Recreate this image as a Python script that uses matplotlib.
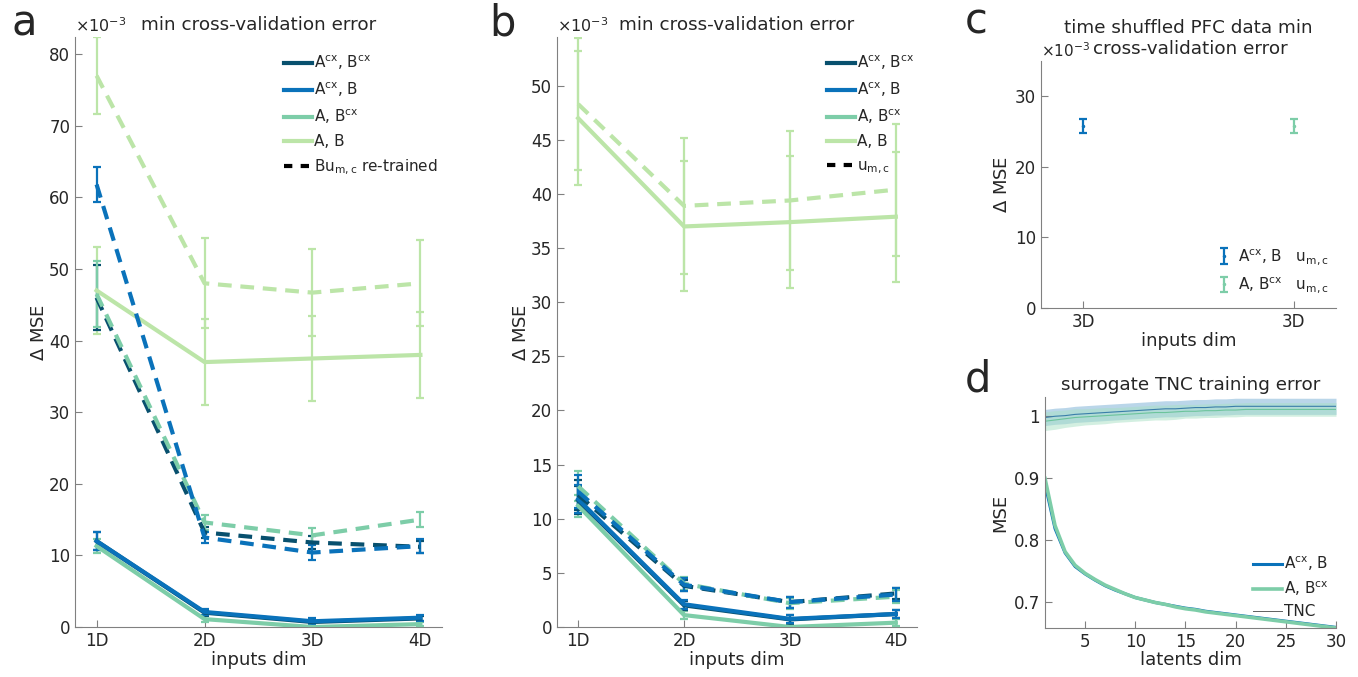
import numpy as np
import matplotlib
matplotlib.use('Agg')
import matplotlib.pyplot as plt
from matplotlib.lines import Line2D

plt.rcParams['font.family'] = ['DejaVu Sans']
plt.rcParams['text.color'] = '#262626'
plt.rcParams['axes.labelcolor'] = '#262626'
plt.rcParams['xtick.color'] = '#262626'
plt.rcParams['ytick.color'] = '#262626'
plt.rcParams['mathtext.default'] = 'regular'

# colours
c_dark = '#08506e'
c_blue = '#0a72ba'
c_mint = '#7dcda8'
c_light = '#bce5a8'

dims = [1, 2, 3, 4]
dim_labels = ['1D', '2D', '3D', '4D']
series_names = ['A$^{cx}$, B$^{cx}$', 'A$^{cx}$, B', 'A, B$^{cx}$', 'A, B']

# panel a  (units of 1e-3)
a_solid = {
    'AcxBcx': [12.0, 2.0, 0.7, 1.2],
    'AcxB':   [12.0, 2.1, 0.8, 1.3],
    'ABcx':   [11.3, 1.1, 0.0, 0.4],
    'AB':     [47.0, 37.0, 37.5, 38.0],
}
a_solid_err = {
    'AcxBcx': [1.2, 0.4, 0.4, 0.4],
    'AcxB':   [1.3, 0.4, 0.4, 0.4],
    'ABcx':   [1.0, 0.4, 0.3, 0.3],
    'AB':     [6.1, 6.0, 6.0, 6.0],
}
a_dash = {
    'AcxBcx': [46.0, 13.2, 11.8, 11.2],
    'AcxB':   [61.8, 12.5, 10.4, 11.3],
    'ABcx':   [46.5, 14.6, 12.8, 15.0],
    'AB':     [77.0, 48.0, 46.7, 48.0],
}
a_dash_err = {
    'AcxBcx': [4.5, 0.8, 0.9, 0.8],
    'AcxB':   [2.4, 0.7, 1.1, 1.0],
    'ABcx':   [4.6, 1.0, 1.0, 1.1],
    'AB':     [5.4, 6.3, 6.1, 6.0],
}

# panel b  (units of 1e-3)
b_solid = {
    'AcxBcx': [11.7, 2.0, 0.7, 1.2],
    'AcxB':   [11.8, 2.1, 0.75, 1.2],
    'ABcx':   [11.2, 1.1, 0.0, 0.4],
    'AB':     [47.0, 37.0, 37.4, 37.9],
}
b_solid_err = {
    'AcxBcx': [1.3, 0.4, 0.4, 0.4],
    'AcxB':   [1.3, 0.4, 0.4, 0.4],
    'ABcx':   [1.0, 0.4, 0.3, 0.3],
    'AB':     [6.2, 6.0, 6.1, 6.0],
}
b_dash = {
    'AcxBcx': [12.2, 3.8, 2.3, 3.1],
    'AcxB':   [12.5, 3.9, 2.3, 3.0],
    'ABcx':   [13.0, 4.0, 2.2, 2.8],
    'AB':     [48.3, 38.9, 39.4, 40.4],
}
b_dash_err = {
    'AcxBcx': [1.4, 0.5, 0.5, 0.5],
    'AcxB':   [1.5, 0.6, 0.5, 0.6],
    'ABcx':   [1.4, 0.6, 0.5, 0.6],
    'AB':     [6.1, 6.3, 6.4, 6.1],
}

# panel c
c_x = [1, 2]
c_val = [25.8, 25.8]
c_err = [1.0, 1.0]

# panel d
latents = list(range(1, 31))
d_acxb = [0.890, 0.818, 0.779, 0.757, 0.745, 0.735, 0.726, 0.719, 0.713, 0.707,
          0.703, 0.699, 0.696, 0.693, 0.690, 0.688, 0.685, 0.683, 0.681, 0.679,
          0.677, 0.675, 0.673, 0.671, 0.669, 0.667, 0.665, 0.663, 0.661, 0.659]
d_abcx = [0.899, 0.823, 0.781, 0.759, 0.746, 0.736, 0.727, 0.720, 0.713, 0.707,
          0.703, 0.699, 0.696, 0.692, 0.689, 0.687, 0.684, 0.682, 0.680, 0.678,
          0.676, 0.674, 0.672, 0.670, 0.668, 0.666, 0.664, 0.662, 0.660, 0.658]
tnc_blue = [0.997, 0.999, 1.000, 1.002, 1.003, 1.004, 1.005, 1.006, 1.007, 1.008,
            1.009, 1.010, 1.011, 1.011, 1.012, 1.013, 1.013, 1.014, 1.014, 1.015,
            1.015, 1.015, 1.015, 1.015, 1.015, 1.015, 1.015, 1.015, 1.015, 1.015]
tnc_blue_sd = [0.013, 0.013, 0.013, 0.013, 0.013, 0.013, 0.013, 0.013, 0.013, 0.013,
               0.013, 0.013, 0.013, 0.013, 0.013, 0.013, 0.013, 0.013, 0.013, 0.013,
               0.013, 0.013, 0.013, 0.013, 0.013, 0.013, 0.013, 0.013, 0.013, 0.013]
tnc_mint = [0.991, 0.993, 0.995, 0.997, 0.998, 0.999, 1.000, 1.001, 1.002, 1.003,
            1.004, 1.005, 1.005, 1.006, 1.007, 1.007, 1.008, 1.008, 1.009, 1.009,
            1.010, 1.010, 1.010, 1.010, 1.010, 1.010, 1.010, 1.010, 1.010, 1.010]
tnc_mint_sd = [0.015, 0.015, 0.014, 0.014, 0.013, 0.013, 0.013, 0.012, 0.012, 0.012,
               0.012, 0.012, 0.012, 0.012, 0.011, 0.011, 0.011, 0.011, 0.011, 0.011,
               0.011, 0.011, 0.011, 0.011, 0.011, 0.011, 0.011, 0.011, 0.011, 0.011]

keys = ['AcxBcx', 'AcxB', 'ABcx', 'AB']
cols = {'AcxBcx': c_dark, 'AcxB': c_blue, 'ABcx': c_mint, 'AB': c_light}

W, H = 1358, 677
fig = plt.figure(figsize=(W / 100, H / 100), dpi=100)


def px_axes(x0, y0, x1, y1):
    return fig.add_axes([x0 / W, (H - y1) / H, (x1 - x0) / W, (y1 - y0) / H])


def style(ax):
    for s in ['top', 'right']:
        ax.spines[s].set_visible(False)
    for s in ['left', 'bottom']:
        ax.spines[s].set_color('#808080')
        ax.spines[s].set_linewidth(0.8)
    ax.tick_params(direction='in', length=5, width=0.8, color='#808080', labelsize=12)


fs = 13
fs_title = 13.2
dash = (3.3, 2.1)


def draw_lines(ax, solid, solid_err, dashd, dash_err):
    for k in ['AB', 'ABcx', 'AcxBcx', 'AcxB']:
        ax.errorbar(dims, solid[k], yerr=solid_err[k], color=cols[k], lw=3,
                    elinewidth=1.6, capsize=3, capthick=1.6, zorder=3)
    for k in ['AB', 'AcxBcx', 'ABcx', 'AcxB']:
        eb = ax.errorbar(dims, dashd[k], yerr=dash_err[k], color=cols[k], lw=3,
                         elinewidth=1.6, capsize=3, capthick=1.6, zorder=3)
        eb[0].set_dashes(dash)


def legend_handles(last):
    hs = [Line2D([], [], color=cols[k], lw=3) for k in keys]
    hs.append(Line2D([], [], color='black', lw=3, dashes=(2, 2)))
    return hs, series_names + [last]


def offset_label(ax):
    ax.text(0, 1.004, '$\\times$10$^{-3}$', transform=ax.transAxes, fontsize=11.5,
            ha='left', va='bottom')


# ---- panel a
ax = px_axes(75, 37, 442, 627)
style(ax)
draw_lines(ax, a_solid, a_solid_err, a_dash, a_dash_err)
ax.set_xlim(0.8, 4.2)
ax.set_ylim(0, 82.4)
ax.set_xticks(dims)
ax.set_xticklabels(dim_labels)
ax.set_yticks([0, 10, 20, 30, 40, 50, 60, 70, 80])
ax.set_xlabel('inputs dim', fontsize=fs, labelpad=1)
ax.set_ylabel('$\\Delta$ MSE', fontsize=fs, labelpad=1)
ax.set_title('min cross-validation error', fontsize=fs_title, pad=5)
offset_label(ax)
hs, ls = legend_handles('Bu$_{m,c}$ re-trained')
ax.legend(hs, ls, loc='upper left', bbox_to_anchor=(0.55, 0.985), frameon=False, fontsize=11,
          handlelength=1.8, handletextpad=0.15, labelspacing=0.55, borderpad=0)
fig.text(11 / W, (H - 36) / H, 'a', fontsize=30, ha='left', va='baseline')

# ---- panel b
ax = px_axes(557, 37, 917, 627)
style(ax)
draw_lines(ax, b_solid, b_solid_err, b_dash, b_dash_err)
ax.set_xlim(0.8, 4.2)
ax.set_ylim(0, 54.5)
ax.set_xticks(dims)
ax.set_xticklabels(dim_labels)
ax.set_yticks([0, 5, 10, 15, 20, 25, 30, 35, 40, 45, 50])
ax.set_xlabel('inputs dim', fontsize=fs, labelpad=1)
ax.set_ylabel('$\\Delta$ MSE', fontsize=fs, labelpad=1)
ax.set_title('min cross-validation error', fontsize=fs_title, pad=5)
offset_label(ax)
hs, ls = legend_handles('u$_{m,c}$')
ax.legend(hs, ls, loc='upper left', bbox_to_anchor=(0.73, 0.985), frameon=False, fontsize=11,
          handlelength=1.8, handletextpad=0.15, labelspacing=0.55, borderpad=0)
fig.text(489 / W, (H - 36) / H, 'b', fontsize=30, ha='left', va='baseline')

# ---- panel c
ax = px_axes(1041, 61, 1336, 308)
style(ax)
h1 = ax.errorbar(c_x[0], c_val[0], yerr=c_err[0], color=c_blue, fmt='.', ms=3,
                 elinewidth=1.6, capsize=3, capthick=1.6)
h2 = ax.errorbar(c_x[1], c_val[1], yerr=c_err[1], color=c_mint, fmt='.', ms=3,
                 elinewidth=1.6, capsize=3, capthick=1.6)
ax.set_xlim(0.8, 2.2)
ax.set_ylim(0, 35)
ax.set_xticks(c_x)
ax.set_xticklabels(['3D', '3D'])
ax.set_yticks([0, 10, 20, 30])
ax.set_xlabel('inputs dim', fontsize=fs, labelpad=1)
ax.set_ylabel('$\\Delta$ MSE', fontsize=fs, labelpad=3)
fig.text(1188 / W, (H - 33) / H, 'time shuffled PFC data min', fontsize=fs_title,
         ha='center', va='baseline')
fig.text(1190 / W, (H - 54) / H, 'cross-validation error', fontsize=fs_title,
         ha='center', va='baseline')
ax.text(0, 1.004, '$\\times$10$^{-3}$', transform=ax.transAxes, fontsize=11,
        ha='left', va='bottom')
ax.legend([h1, h2], ['A$^{cx}$, B   u$_{m,c}$', 'A, B$^{cx}$   u$_{m,c}$'], loc='lower left',
          bbox_to_anchor=(0.57, 0.02), frameon=False, fontsize=11, handlelength=1.0,
          handletextpad=0.4, labelspacing=0.55, borderpad=0)
fig.text(965 / W, (H - 34) / H, 'c', fontsize=30, ha='left', va='baseline')

# ---- panel d
ax = px_axes(1045, 397, 1336, 628)
style(ax)
tb = np.array(tnc_blue)
tbs = np.array(tnc_blue_sd)
tm = np.array(tnc_mint)
tms = np.array(tnc_mint_sd)
ax.fill_between(latents, tb - tbs, tb + tbs, color='#8dbbdb', alpha=0.6, lw=0)
ax.fill_between(latents, tm - tms, tm + tms, color='#a8e0c4', alpha=0.5, lw=0)
ax.plot(latents, tb, color='#3a7eaa', lw=0.8)
ax.plot(latents, tm, color='#6cc49c', lw=0.8)
l1, = ax.plot(latents, d_acxb, color=c_blue, lw=2.2)
l2, = ax.plot(latents, d_abcx, color=c_mint, lw=2.6)
ax.set_xlim(1, 30)
ax.set_ylim(0.658, 1.03)
ax.set_xticks([5, 10, 15, 20, 25, 30])
ax.set_yticks([0.7, 0.8, 0.9, 1.0])
ax.set_yticklabels(['0.7', '0.8', '0.9', '1'])
ax.set_xlabel('latents dim', fontsize=fs, labelpad=0)
ax.set_ylabel('MSE', fontsize=fs, labelpad=3)
ax.set_title('surrogate TNC training error', fontsize=fs_title, pad=5)
l3 = Line2D([], [], color='#606060', lw=0.7)
ax.legend([l1, l2, l3], ['A$^{cx}$, B', 'A, B$^{cx}$', 'TNC'], loc='lower right',
          bbox_to_anchor=(1.0, 0.005), frameon=False, fontsize=11, handlelength=1.9,
          handletextpad=0.1, labelspacing=0.4, borderpad=0)
fig.text(965 / W, (H - 392) / H, 'd', fontsize=30, ha='left', va='baseline')

fig.savefig('out.png', dpi=100)
